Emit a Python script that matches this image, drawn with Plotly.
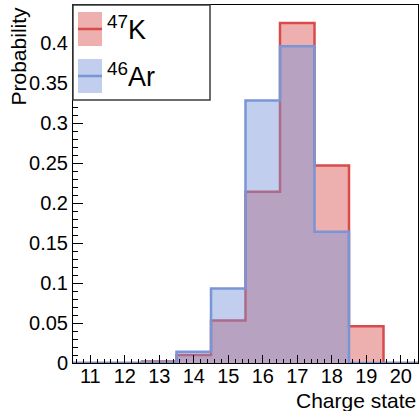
import plotly.graph_objects as go

charges = [11, 12, 13, 14, 15, 16, 17, 18, 19, 20]
k47 = [0.0, 0.0, 0.002, 0.010, 0.053, 0.214, 0.425, 0.247, 0.046, 0.0]
ar46 = [0.0, 0.0, 0.001, 0.014, 0.093, 0.328, 0.396, 0.164, 0.0, 0.0]
labels = ["<sup>47</sup>K", "<sup>46</sup>Ar"]
tick_vals = charges

red_line = "rgb(217,75,75)"
red_fill = "rgba(218,78,78,0.45)"
blue_line = "rgb(120,150,214)"
blue_fill = "rgba(117,146,214,0.45)"

W, H = 419, 411
ML, MR, MT, MB = 73, 1, 5, 48
PW, PH = W - ML - MR, H - MT - MB


def px(x):
    return (x - ML) / PW


def py(y):
    return (H - MB - y) / PH


def step(vals):
    xs = [c - 0.5 for c in charges] + [charges[-1] + 0.5]
    ys = list(vals) + [vals[-1]]
    return xs, ys


fig = go.Figure()
for vals, lc, fc in [(k47, red_line, red_fill), (ar46, blue_line, blue_fill)]:
    xs, ys = step(vals)
    fig.add_trace(go.Scatter(x=xs, y=ys, mode="lines", line=dict(color=lc, width=2.5, shape="hv"),
                             fill="tozeroy", fillcolor=fc, showlegend=False, hoverinfo="skip"))

font = "Liberation Sans, Arial, sans-serif"
fig.update_layout(
    width=W, height=H, margin=dict(l=ML, r=MR, t=MT, b=MB),
    paper_bgcolor="white", plot_bgcolor="white",
    font=dict(family=font, color="black"),
    xaxis=dict(range=[10.5, 20.5], tickvals=tick_vals, ticks="inside", ticklen=8, tickwidth=1,
               tickcolor="black", showgrid=False, zeroline=False, showline=True, linecolor="black",
               linewidth=1, mirror=True, tickfont=dict(size=20), ticklabelstandoff=-5,
               minor=dict(ticks="inside", ticklen=4, dtick=0.2, tick0=10.4, tickcolor="black", showgrid=False)),
    yaxis=dict(range=[0, 0.4475], tickvals=[0, 0.05, 0.1, 0.15, 0.2, 0.25, 0.3, 0.35, 0.4],
               ticktext=["0", "0.05", "0.1", "0.15", "0.2", "0.25", "0.3", "0.35", "0.4"],
               ticks="inside", ticklen=10, tickwidth=1, tickcolor="black", showgrid=False, zeroline=False,
               showline=True, linecolor="black", linewidth=1, mirror=True, tickfont=dict(size=20),
               minor=dict(ticks="inside", ticklen=5, dtick=0.01, tick0=0, tickcolor="black", showgrid=False)),
)

# axis titles
fig.add_annotation(text="Probability", xref="paper", yref="paper", x=px(18), y=1.0,
                   xanchor="center", yanchor="top", textangle=-90, showarrow=False,
                   font=dict(size=21, family=font))
fig.add_annotation(text="Charge state", xref="paper", yref="paper", x=1.0, y=py(400),
                   xanchor="right", yanchor="middle", showarrow=False, font=dict(size=21, family=font))

# legend box
fig.add_shape(type="rect", xref="paper", yref="paper", x0=px(73), x1=px(210), y0=py(100), y1=py(5),
              line=dict(color="rgb(60,60,60)", width=1.5), fillcolor="white", layer="above")
for i, (lab, lc, fc) in enumerate([(labels[0], red_line, red_fill), (labels[1], blue_line, blue_fill)]):
    top = 12 + i * 47
    bot = top + 34
    mid = (top + bot) / 2
    fig.add_shape(type="rect", xref="paper", yref="paper", x0=px(78), x1=px(102), y0=py(bot), y1=py(top),
                  line=dict(width=0), fillcolor=fc, layer="above")
    fig.add_shape(type="line", xref="paper", yref="paper", x0=px(78), x1=px(102), y0=py(mid), y1=py(mid),
                  line=dict(color=lc, width=2.5), layer="above")
    fig.add_annotation(text=lab, xref="paper", yref="paper", x=px(105), y=py(mid - 1),
                       xanchor="left", yanchor="middle", showarrow=False, font=dict(size=27, family=font))

fig.write_html("out.html")
